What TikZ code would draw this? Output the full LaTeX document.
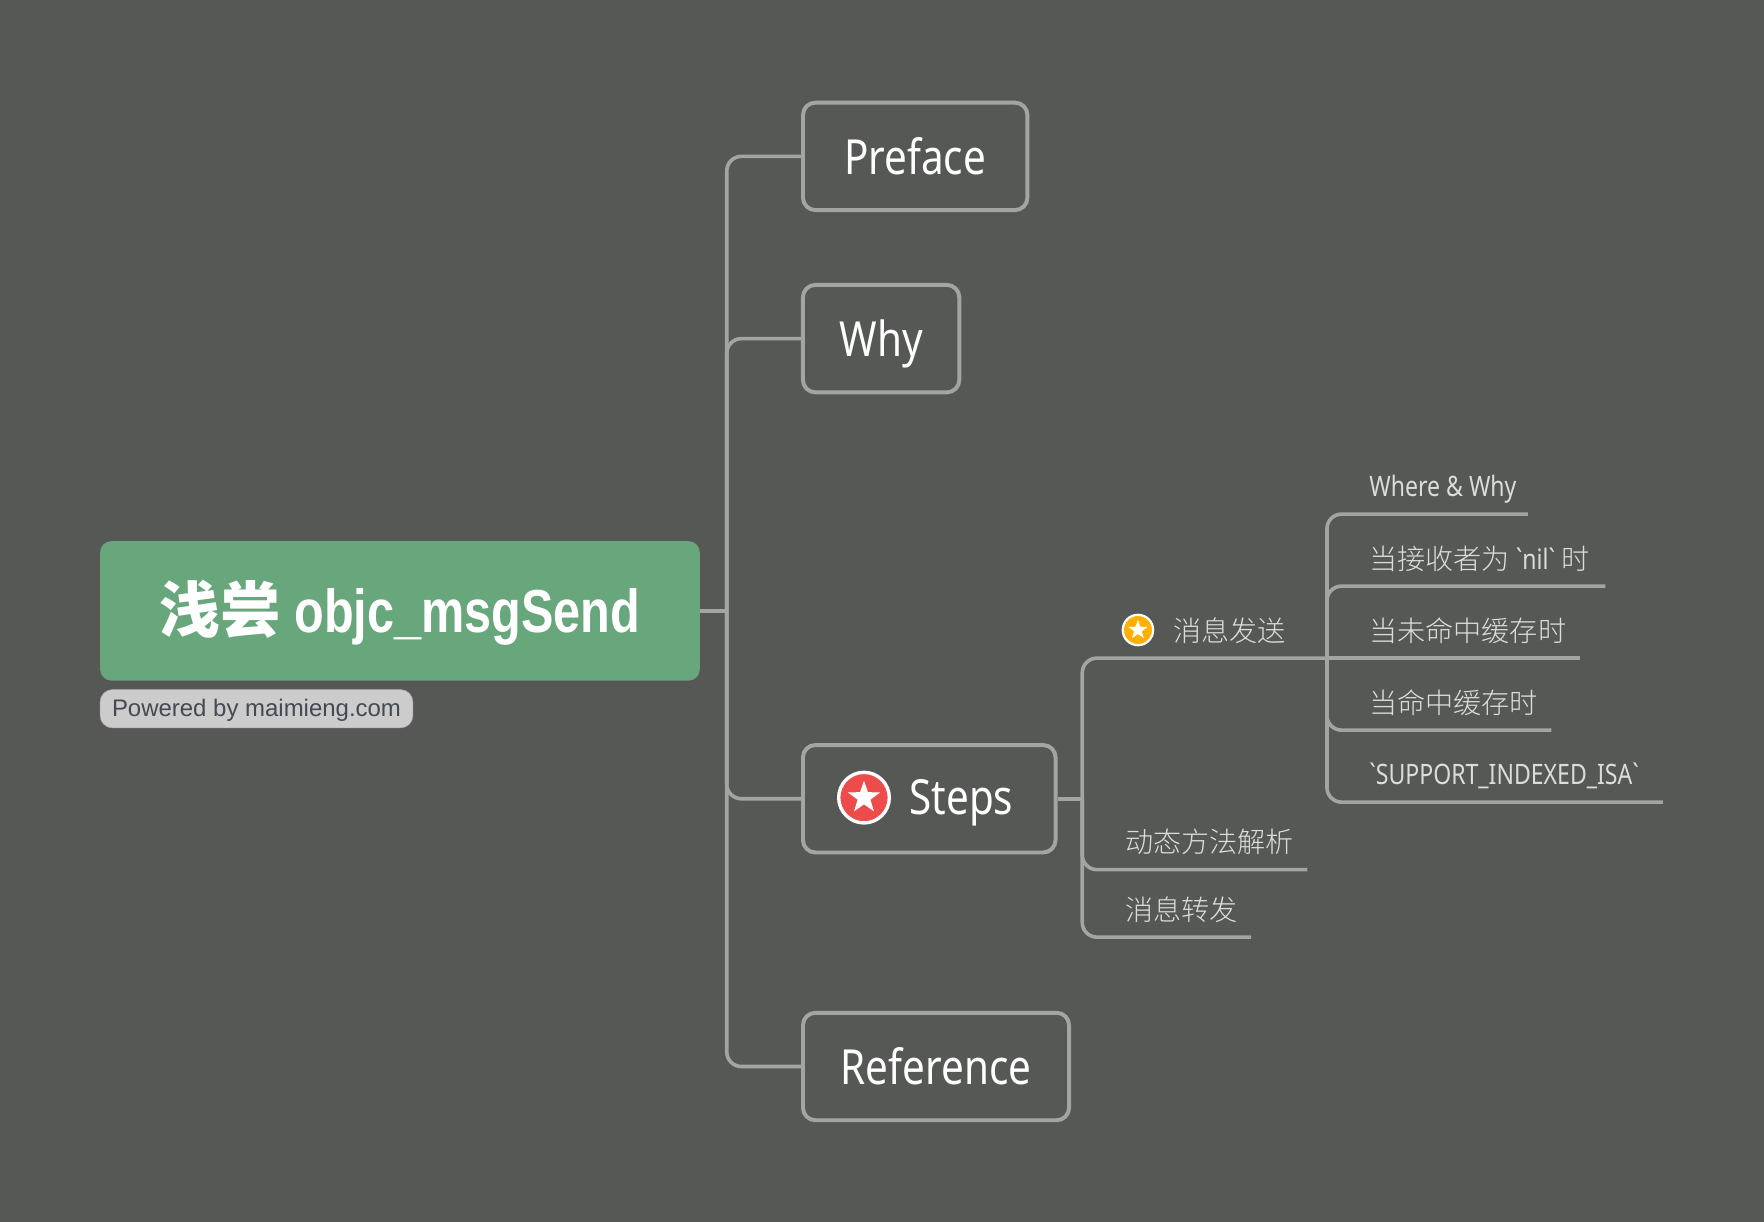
\documentclass[tikz,border=0pt]{standalone}
\usepackage{fontspec}
\usepackage{xcolor}
\usetikzlibrary{positioning}
\usetikzlibrary{shapes.geometric}
\usetikzlibrary{math}

\setmainfont[FakeStretch=0.835]{Noto Sans}
\newfontfamily\rootlatin[FakeStretch=0.8]{Liberation Sans}
\newfontfamily\leaflatin[FakeStretch=0.82]{Noto Sans}
\newfontfamily\cjk{Noto Sans CJK SC Light}
\newfontfamily\cjkbold{Noto Sans CJK SC}
\newfontfamily\plainsans{Liberation Sans}
\newcommand{\tick}{\char"60\relax}

\definecolor{canvas}{HTML}{565855}
\definecolor{rootgreen}{HTML}{68A67C}
\definecolor{linegray}{HTML}{A3A6A0}
\definecolor{leaftext}{HTML}{DCDDDA}
\definecolor{badgegray}{HTML}{CCCCCC}
\definecolor{badgetext}{HTML}{434A54}
\definecolor{starred}{HTML}{EE4B4B}
\definecolor{starorange}{HTML}{FFB000}

\tikzset{
  link/.style={line width=3.2pt, draw=linegray, rounded corners=13pt},
  rootbox/.style={fill=rootgreen, rounded corners=10pt, inner sep=0pt, text=white,
    minimum width=533pt, minimum height=124pt, text height=38pt, text depth=0pt,
    font=\bfseries\fontsize{54}{60}\selectfont},
  topic/.style={draw=linegray, line width=3.5pt, rounded corners=11pt, inner sep=0pt, text=white,
    minimum height=95.5pt, text height=32pt, text depth=0pt, font=\fontsize{43}{50}\selectfont},
  leaf/.style={anchor=base west, inner sep=0pt, text=leaftext, font=\leaflatin\fontsize{25}{30}\selectfont},
  badge/.style={fill=badgegray, draw=badgegray!85!black, line width=0.5pt, rounded corners=11pt,
    inner sep=0pt, text=badgetext, minimum width=278pt, minimum height=34pt,
    text height=14pt, text depth=0pt, font=\plainsans\fontsize{21.3}{26}\selectfont},
  icon/.style={circle, draw=white, inner sep=0pt},
  staricon/.style={star, star points=5, star point ratio=2.5, fill=white, inner sep=0pt},
}

\begin{document}
\begin{tikzpicture}[x=1pt,y=-1pt]

  \tikzmath{
    \trunk = 646;    % x of the long line from the root
    \fork  = 962;    % x of the line behind Steps
    \twig  = 1179.5; % x of the line behind the first step
  }

  \fill[canvas] (0,0) rectangle (1568,1086);
  \useasboundingbox (0,0) rectangle (1568,1086);

  % Root and its badge
  \node[rootbox] (root) at (355.5,543) {{\cjkbold 浅尝} {\rootlatin objc\_msgSend}};
  \node[badge] (powered) at (228,630) {Powered by maimieng.com};

  % Topics
  \node[topic, minimum width=199.5pt] (preface) at (813.5,139) {Preface};
  \node[topic, minimum width=139pt] (why) at (783.2,301) {Why};
  \node[topic, minimum width=224.5pt] (steps) at (826,710) {};
  \node[topic, minimum width=236.5pt] (reference) at (832,948) {Reference};

  \node[icon, fill=starred, line width=3pt, minimum size=45pt] (stepsicon) at (768,709) {};
  \node[staricon, minimum size=30pt] (stepsstar) at (768,709) {};
  \node[text=white, inner sep=0pt, text height=32pt, text depth=0pt,
    font=\fontsize{43}{50}\selectfont] (stepslabel) at (854.5,708) {Steps};

  % Labels of the steps
  \node[icon, fill=starorange, line width=2pt, minimum size=27pt] (sendicon) at (1011.5,560) {};
  \node[staricon, minimum size=18pt] (sendstar) at (1011.5,560) {};
  \node[leaf] (send) at (1043,570) {\cjk 消息发送};
  \node[leaf] (dynamic) at (1000,758) {\cjk 动态方法解析};
  \node[leaf] (forward) at (1000,818) {\cjk 消息转发};

  \node[leaf] (where) at (1217,441) {Where \& Why};
  \node[leaf] (nilcase) at (1217,506) {{\cjk 当接收者为} \tick nil\tick{} {\cjk 时}};
  \node[leaf] (misscase) at (1217,570) {\cjk 当未命中缓存时};
  \node[leaf] (hitcase) at (1217,634) {\cjk 当命中缓存时};
  \node[leaf] (indexed) at (1217,697) {\tick SUPPORT\_INDEXED\_ISA\tick};

  % Free ends of the underlines
  \coordinate (hubroot) at (\trunk,543);
  \coordinate (hubsteps) at (\fork,710);
  \coordinate (hubsend) at (\twig,585);
  \coordinate (sendend) at (\twig,585);
  \coordinate (dynamicend) at (1162,773);
  \coordinate (forwardend) at (1112,833);
  \coordinate (whereend) at (1358,457);
  \coordinate (nilend) at (1427,521);
  \coordinate (missend) at (1404,585);
  \coordinate (hitend) at (1379,649);
  \coordinate (indexedend) at (1478,713);

  % Root to topics
  \draw[link] (root.east) -- (hubroot);
  \draw[link] (hubroot) |- (preface.west);
  \draw[link] (hubroot) |- (why.west);
  \draw[link] (hubroot) |- (steps.west);
  \draw[link] (hubroot) |- (reference.west);

  % Steps to its children
  \draw[link] (steps.east) -- (hubsteps);
  \draw[link] (hubsteps) |- (sendend);
  \draw[link] (hubsteps) |- (dynamicend);
  \draw[link] (hubsteps) |- (forwardend);

  % First step to its children
  \draw[link] (hubsend) |- (whereend);
  \draw[link] (hubsend) |- (nilend);
  \draw[link] (hubsend) -- (missend);
  \draw[link] (hubsend) |- (hitend);
  \draw[link] (hubsend) |- (indexedend);

\end{tikzpicture}
\end{document}
